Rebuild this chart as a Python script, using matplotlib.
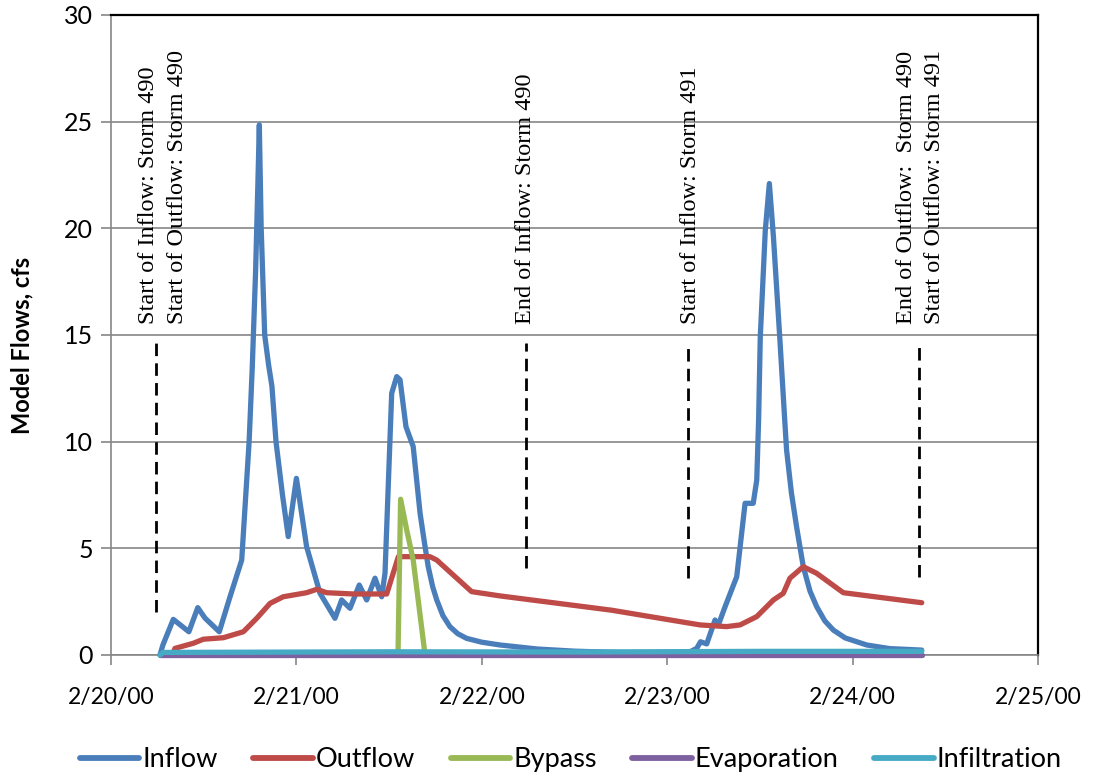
import matplotlib
matplotlib.use("Agg")
import matplotlib.pyplot as plt
from matplotlib import font_manager as fm

def pick(fams):
    for f in fams:
        try:
            fm.findfont(f, fallback_to_default=False)
            return f
        except Exception:
            pass
    return "DejaVu Sans"

SANS = pick(["Liberation Sans Narrow", "DejaVu Sans Condensed", "Lato"])
SERIF = pick(["Liberation Serif", "DejaVu Serif"])

# ---- data (days after 2/20/00 00:00) ----
inflow_t = [0.264, 0.28, 0.336, 0.42, 0.468, 0.507, 0.584, 0.642, 0.705, 0.745, 0.762,
            0.78, 0.792, 0.80, 0.81, 0.829, 0.85, 0.868, 0.89, 0.925, 0.956, 1.0,
            1.055, 1.127, 1.208, 1.244,
            1.289, 1.339, 1.379, 1.424, 1.46, 1.478, 1.514, 1.541, 1.559, 1.591, 1.63,
            1.667, 1.69, 1.711, 1.735, 1.757, 1.79, 1.828, 1.87, 1.918, 2.0, 2.098,
            2.3, 2.5, 2.8, 3.1, 3.159, 3.18,
            3.213, 3.258, 3.276, 3.312, 3.375, 3.42, 3.464, 3.483, 3.493, 3.502, 3.529,
            3.551, 3.573, 3.607, 3.634, 3.644, 3.67, 3.698, 3.734, 3.77, 3.806, 3.85,
            3.896, 3.96, 4.076, 4.2, 4.373]
inflow_v = [0.0, 0.47, 1.67, 1.09, 2.22, 1.73, 1.09, 2.73, 4.45, 10.0, 13.5,
            18.0, 22.0, 24.85, 20.0, 15.0, 13.6, 12.6, 10.0, 7.5, 5.55, 8.28,
            5.08, 2.9, 1.72, 2.58,
            2.19, 3.28, 2.58, 3.6, 2.73, 3.84, 12.27, 13.05, 12.9, 10.7, 9.77,
            6.65, 5.3, 4.14, 3.2, 2.58, 1.85, 1.33, 1.0, 0.78, 0.6, 0.47,
            0.28, 0.18, 0.1, 0.05, 0.31, 0.62,
            0.52, 1.64, 1.41, 2.26, 3.67, 7.11, 7.11, 8.2, 11.0, 14.9, 19.9,
            22.1, 19.6, 14.9, 11.0, 9.6, 7.6, 6.0, 4.14, 3.0, 2.27, 1.6,
            1.17, 0.8, 0.47, 0.3, 0.23]

outflow_t = [0.33, 0.345, 0.444, 0.498, 0.606, 0.714, 0.786, 0.858, 0.929, 1.055,
             1.11, 1.163, 1.307, 1.487, 1.55, 1.72, 1.757, 1.945, 2.098, 2.7,
             3.177, 3.32, 3.393, 3.483, 3.573, 3.626, 3.662, 3.734, 3.806, 3.95, 4.373]
outflow_v = [0.0, 0.31, 0.55, 0.74, 0.81, 1.09, 1.72, 2.42, 2.73, 2.92,
             3.08, 2.92, 2.86, 2.86, 4.61, 4.61, 4.45, 2.97, 2.77, 2.1,
             1.41, 1.33, 1.41, 1.8, 2.58, 2.89, 3.6, 4.14, 3.83, 2.92, 2.45]

bypass_t = [1.548, 1.562, 1.595, 1.63, 1.694]
bypass_v = [0.0, 7.3, 5.86, 4.45, 0.0]

evap_t = [0.264, 4.373]
evap_v = [0.0, 0.0]

infil_t = [0.264, 0.28, 1.5, 2.5, 3.5, 4.373]
infil_v = [0.0, 0.12, 0.15, 0.14, 0.17, 0.17]

series_names = ["Inflow", "Outflow", "Bypass", "Evaporation", "Infiltration"]
series_colors = ["#4A7EBB", "#BE4B48", "#98B954", "#7D60A0", "#46AAC5"]

marker_t = [0.243, 2.238, 3.11, 4.36]
marker_top = [14.63, 14.63, 14.63, 14.63]
marker_bottom = [2.0, 4.1, 3.6, 3.65]

note_texts = ["Start of Inflow: Storm 490", "Start of Outflow: Storm 490",
              "End of Inflow: Storm 490", "Start of Inflow: Storm 491",
              "End of Outflow:  Storm 490", "Start of Outflow: Storm 491"]
note_t = [0.200, 0.356, 2.238, 3.128, 4.293, 4.444]
note_y = 15.5

x_ticks = [0, 1, 2, 3, 4, 5]
x_labels = ["2/20/00", "2/21/00", "2/22/00", "2/23/00", "2/24/00", "2/25/00"]
y_ticks = [0, 5, 10, 15, 20, 25, 30]

# ---- figure ----
fig = plt.figure(figsize=(10.98, 7.80), dpi=100)
ax = fig.add_axes([111/1098, 1-655/780, (1038-111)/1098, (655-15)/780])

grid_c = "#868686"
for yv in y_ticks:
    ax.axhline(yv, color=grid_c, lw=1.2, zorder=1)

data = [(inflow_t, inflow_v), (outflow_t, outflow_v), (bypass_t, bypass_v),
        (evap_t, evap_v), (infil_t, infil_v)]
for i, ((t, v), name, col) in enumerate(zip(data, series_names, series_colors)):
    ax.plot(t, v, color=col, lw=3.8, label=name, solid_joinstyle="round",
            solid_capstyle="round", zorder=3 + i, clip_on=False)

for t, top, bot in zip(marker_t, marker_top, marker_bottom):
    ax.plot([t, t], [bot, top], color="black", lw=2.0, ls=(0, (4.5, 2.6)), zorder=2)

for txt, t in zip(note_texts, note_t):
    ax.text(t, note_y, txt, rotation=90, ha="center", va="bottom",
            fontsize=17.5, family=SERIF, color="black", zorder=10)

ax.set_xlim(0, 5)
ax.set_ylim(0, 30)
ax.set_xticks(x_ticks)
ax.set_xticklabels(x_labels)
ax.set_yticks(y_ticks)
ax.tick_params(axis="both", direction="out", length=7, width=1.2, color=grid_c,
               labelsize=18, pad=6)
ax.tick_params(axis="x", pad=16, labelsize=16.5)
for lab in ax.get_xticklabels() + ax.get_yticklabels():
    lab.set_family(SANS)

for s in ["left", "bottom"]:
    ax.spines[s].set_color(grid_c)
    ax.spines[s].set_linewidth(1.2)
for s in ["top", "right"]:
    ax.spines[s].set_color("black")
    ax.spines[s].set_linewidth(1.6)

ax.set_ylabel("Model Flows, cfs", fontsize=17, fontweight="bold", family=SANS)
ax.yaxis.set_label_coords(-0.084, 0.484)

leg = fig.legend(loc="center", bbox_to_anchor=(0.520, 0.026), ncol=5, frameon=False,
                 prop={"family": SANS, "size": 19.5}, handlelength=2.2,
                 columnspacing=1.3, handletextpad=0.12)
for h in leg.get_lines():
    h.set_linewidth(4.2)

fig.savefig("out.png", dpi=100)
